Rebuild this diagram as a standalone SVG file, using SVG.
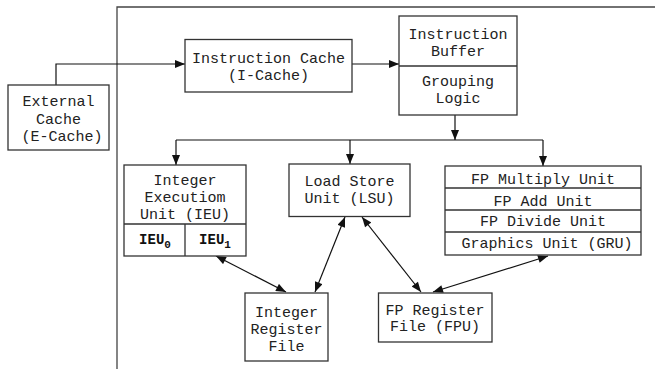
<svg xmlns="http://www.w3.org/2000/svg" width="655" height="369" viewBox="0 0 655 369">
<defs>
<marker id="ah" viewBox="0 0 10 8" refX="10" refY="4" markerWidth="11" markerHeight="8" markerUnits="userSpaceOnUse" orient="auto-start-reverse">
<path d="M0,0 L10,4 L0,8 Z" fill="#111"/>
</marker>
<style>
.box{fill:#fff;stroke:#333;stroke-width:1.3}
.div{stroke:#333;stroke-width:1.3;fill:none}
.t{font-family:"Liberation Mono","DejaVu Sans Mono",monospace;font-size:15px;fill:#222;text-anchor:middle}
.b{font-family:"Liberation Mono","DejaVu Sans Mono",monospace;font-size:14px;font-weight:bold;fill:#111;text-anchor:middle}
.c{stroke:#111;stroke-width:1.2;fill:none}
.frame{stroke:#444;stroke-width:1.3;fill:none}
</style>
</defs>
<rect width="655" height="369" fill="#fff"/>
<path class="frame" d="M117,369 V7 H655"/>
<g id="connectors">
<path class="c" d="M56,85 V64 H185" marker-end="url(#ah)"/>
<path class="c" d="M352,64 H399" marker-end="url(#ah)"/>
<path class="c" d="M455,115 V140" marker-end="url(#ah)"/>
<path class="c" d="M176,140 H543"/>
<path class="c" d="M176,140 V165" marker-end="url(#ah)"/>
<path class="c" d="M350,140 V164" marker-end="url(#ah)"/>
<path class="c" d="M543,140 V166" marker-end="url(#ah)"/>
<path class="c" d="M216,256 L286,292" marker-start="url(#ah)" marker-end="url(#ah)"/>
<path class="c" d="M345,217 L315,292" marker-start="url(#ah)" marker-end="url(#ah)"/>
<path class="c" d="M362,217 L421,292" marker-start="url(#ah)" marker-end="url(#ah)"/>
<path class="c" d="M548,256 L433,292" marker-start="url(#ah)" marker-end="url(#ah)"/>
</g>
<g id="ecache">
<rect class="box" x="8" y="85" width="101" height="65"/>
<text class="t" x="58.5" y="106">External</text>
<text class="t" x="58.5" y="124">Cache</text>
<text class="t" x="62" y="141">(E-Cache)</text>
</g>
<g id="icache">
<rect class="box" x="185" y="39.5" width="167" height="52.5"/>
<text class="t" x="268.5" y="63">Instruction Cache</text>
<text class="t" x="268.5" y="80">(I-Cache)</text>
</g>
<g id="ibuffer">
<rect class="box" x="399" y="16" width="118" height="99"/>
<path class="div" d="M399,66 H517"/>
<text class="t" x="458" y="39">Instruction</text>
<text class="t" x="458" y="56">Buffer</text>
<text class="t" x="458" y="86">Grouping</text>
<text class="t" x="458" y="103">Logic</text>
</g>
<g id="ieu">
<rect class="box" x="124" y="165" width="122" height="91"/>
<path class="div" d="M124,224 H246 M185,224 V256"/>
<text class="t" x="185" y="185">Integer</text>
<text class="t" x="185" y="202">Executiom</text>
<text class="t" x="185" y="219">Unit (IEU)</text>
<text class="b" x="155" y="244">IEU<tspan font-size="11" dy="4">0</tspan></text>
<text class="b" x="215" y="244">IEU<tspan font-size="11" dy="4">1</tspan></text>
</g>
<g id="lsu">
<rect class="box" x="289" y="164" width="121" height="52.5"/>
<text class="t" x="349.5" y="186">Load Store</text>
<text class="t" x="349.5" y="203">Unit (LSU)</text>
</g>
<g id="fpunits">
<rect class="box" x="445" y="166" width="196" height="89"/>
<path class="div" d="M445,188 H641 M445,210 H641 M445,232 H641"/>
<text class="t" x="543" y="183.5">FP Multiply Unit</text>
<text class="t" x="543" y="205.5">FP Add Unit</text>
<text class="t" x="543" y="226">FP Divide Unit</text>
<text class="t" x="547" y="248">Graphics Unit (GRU)</text>
</g>
<g id="intrf">
<rect class="box" x="245" y="293" width="83" height="68"/>
<text class="t" x="286.5" y="317">Integer</text>
<text class="t" x="286.5" y="334">Register</text>
<text class="t" x="286.5" y="351">File</text>
</g>
<g id="fprf">
<rect class="box" x="378.5" y="293" width="113.5" height="49"/>
<text class="t" x="435" y="315">FP Register</text>
<text class="t" x="435" y="331">File (FPU)</text>
</g>
</svg>
